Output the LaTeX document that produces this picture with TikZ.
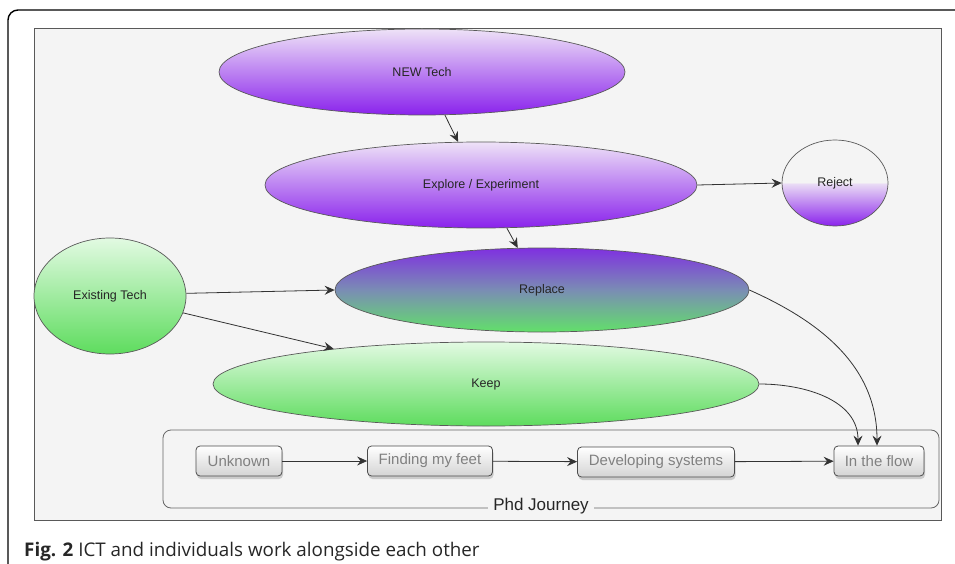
\documentclass[tikz,border=0pt]{standalone}
\usepackage{fontspec}
\setmainfont{Liberation Sans}
\newfontfamily\capfont{Open Sans}
\usetikzlibrary{shapes.geometric,arrows.meta,shadows}
\definecolor{bgg}{HTML}{F4F4F4}
\definecolor{plight}{HTML}{EEE2F7}
\definecolor{pdark}{HTML}{8A22EC}
\definecolor{rlav}{HTML}{EADDF5}
\definecolor{glight}{HTML}{E2FAE2}
\definecolor{gdark}{HTML}{5EDC5E}
\definecolor{rtop}{HTML}{7F30E0}
\definecolor{rmid}{HTML}{7A8DB4}
\definecolor{rbot}{HTML}{62E06A}
\pgfdeclareverticalshading{rejshade}{100bp}{color(0bp)=(pdark); color(25bp)=(pdark); color(49.8bp)=(rlav); color(50.2bp)=(bgg); color(100bp)=(bgg)}
\tikzset{
  ell/.style={ellipse, draw=black!65, line width=0.7pt, inner sep=0pt,
    font=\fontsize{12.5}{14}\selectfont, text=black!85},
  purp/.style={top color=plight, bottom color=pdark},
  grn/.style={top color=glight, bottom color=gdark},
  pbox/.style={draw=black!70, line width=0.8pt, rounded corners=4pt,
    top color=white, bottom color=black!17, minimum height=30pt,
    text=black!50, font=\fontsize{15}{17}\selectfont,
    drop shadow={shadow xshift=1pt, shadow yshift=-3pt, opacity=0.35}},
  arr/.style={-{Stealth[length=10pt,width=9pt,inset=3.5pt]}, line width=0.8pt, draw=black!80}
}
\begin{document}
\begin{tikzpicture}[x=1pt,y=-1pt]
\useasboundingbox (0,0) rectangle (955,564);
\fill[white] (0,0) rectangle (955,564);
\draw[line width=1.4pt, rounded corners=10pt] (8,570) -- (8,10) -- (960,10);
\draw[fill=bgg, draw=black!65, line width=0.8pt] (34,28) rectangle (941,520);

\node[ell, purp, minimum width=406pt, minimum height=86pt] (new) at (422,72) {NEW Tech};
\node[ell, purp, minimum width=432pt, minimum height=86pt] (explore) at (481,185) {Explore / Experiment};
\node[ell, shading=rejshade, minimum width=106pt, minimum height=86pt] (reject) at (835,183) {Reject};
\node[ell, grn, minimum width=152pt, minimum height=116pt] (existing) at (110,296) {Existing Tech};
\node[ell, top color=rtop, bottom color=rbot, middle color=rmid, minimum width=414pt, minimum height=84pt] (replace) at (542,290) {Replace};
\node[ell, grn, minimum width=546pt, minimum height=84pt] (keep) at (486,384) {Keep};

\node[draw=black!60, line width=0.8pt, rounded corners=8pt, minimum width=776pt, minimum height=78pt, inner sep=0pt] (journey) at (551,469) {};
\node[fill=bgg, inner xsep=5pt, inner ysep=1pt, font=\fontsize{17}{19}\selectfont, text=black!85] (jlabel) at (541,506) {Phd Journey};

\node[pbox, minimum width=86pt] (unknown) at (239,461) {Unknown};
\node[pbox, minimum width=125pt] (feet) at (430,461) {Finding my feet};
\node[pbox, minimum width=157pt] (dev) at (656,462) {Developing systems};
\node[pbox, minimum width=90pt] (flow) at (879,461) {In the flow};

\draw[arr] (new.-62) -- (explore.118);
\draw[arr] (explore.-59) -- (replace.120);
\draw[arr] (explore.east) -- (reject.west);
\draw[arr] (existing.2) -- (replace.west);
\draw[arr] (existing.-13) -- (keep.167);
\draw[arr] (replace.east) to[out=-24, in=90] ([xshift=-2pt]flow.north);
\draw[arr] (keep.east) to[out=0, in=90] ([xshift=-21pt]flow.north);

\draw[arr] (unknown) -- (feet);
\draw[arr] (feet) -- (dev);
\draw[arr] (dev) -- (flow);

\node[anchor=base west, inner sep=0pt, font=\capfont\fontsize{18.8}{21}\selectfont, text=black!85] (caption) at (24,556) {\textbf{Fig. 2} ICT and individuals work alongside each other};
\end{tikzpicture}
\end{document}
